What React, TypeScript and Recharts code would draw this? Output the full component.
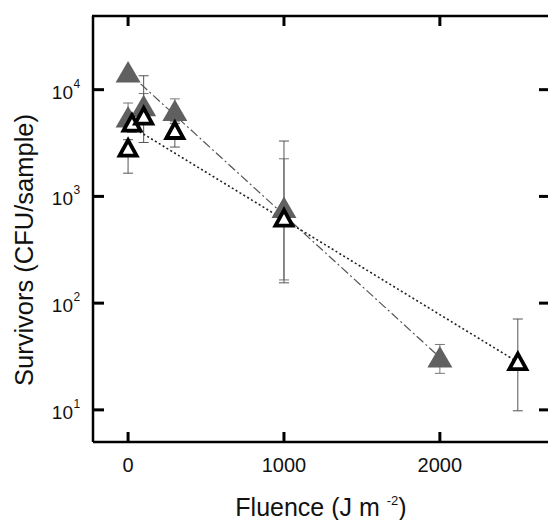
import React from 'react';
import { ScatterChart, Scatter, XAxis, YAxis, ErrorBar } from 'recharts';

// filled grey triangles
const filledFluence = [0, 0, 100, 300, 1000, 2000];
const filledSurvivors = [14500, 5500, 7000, 6300, 780, 31];
const filledLow = [14500, 4600, 5600, 5000, 165, 22];
const filledHigh = [14500, 7500, 9200, 8200, 2250, 41];

// open triangles
const openFluence = [0, 25, 100, 300, 1000, 2500];
const openSurvivors = [2800, 4800, 5600, 4100, 620, 28];
const openLow = [1650, 4000, 3200, 2900, 155, 9.8];
const openHigh = [3400, 5600, 13500, 4800, 3300, 71];

// fitted lines
const filledFitFluence = [0, 2000];
const filledFitSurvivors = [14500, 31];
const openFitFluence = [0, 2500];
const openFitSurvivors = [4700, 28];

const xTicks = [0, 1000, 2000];
const yTicks = [10, 100, 1000, 10000];

const FONT = '"Liberation Sans", Arial, Helvetica, sans-serif';
const PLOT_LEFT = 93;
const PLOT_RIGHT = 549;
const PLOT_TOP = 16;
const PLOT_BOTTOM = 442;

const withErr = (xs: number[], ys: number[], lo: number[], hi: number[]) =>
  xs.map((x, i) => ({ x, y: ys[i], err: [ys[i] - lo[i], hi[i] - ys[i]] }));

const filledData = withErr(filledFluence, filledSurvivors, filledLow, filledHigh);
const openData = withErr(openFluence, openSurvivors, openLow, openHigh);
const filledFit = filledFitFluence.map((x, i) => ({ x, y: filledFitSurvivors[i] }));
const openFit = openFitFluence.map((x, i) => ({ x, y: openFitSurvivors[i] }));

const FilledTriangle = (props: any) => {
  const { cx, cy } = props;
  return (
    <polygon
      points={`${cx},${cy - 11.5} ${cx - 12.5},${cy + 10} ${cx + 12.5},${cy + 10}`}
      fill="#606060"
    />
  );
};

const OpenTriangle = (props: any) => {
  const { cx, cy } = props;
  return (
    <polygon
      points={`${cx},${cy - 8.5} ${cx - 8.5},${cy + 7} ${cx + 8.5},${cy + 7}`}
      fill="#fff"
      stroke="#000"
      strokeWidth={3.8}
      strokeLinejoin="miter"
    />
  );
};

const NoDot = () => <g />;

// left ticks with labels, plus the mirrored right-hand ticks
const LeftTick = (props: any) => {
  const { y, payload } = props;
  const exp = Math.round(Math.log10(payload.value));
  return (
    <g>
      <line x1={PLOT_LEFT} x2={PLOT_LEFT + 11} y1={y} y2={y} stroke="#000" strokeWidth={3} />
      <line x1={PLOT_RIGHT - 10} x2={PLOT_RIGHT} y1={y} y2={y} stroke="#000" strokeWidth={3} />
      <text x={73} y={y + 9} textAnchor="end" fontSize={19} fontFamily={FONT} fill="#111">10</text>
      <text x={73.5} y={y - 2} fontSize={12} fontFamily={FONT} fill="#111">{exp}</text>
    </g>
  );
};

// bottom ticks with labels, plus the mirrored top ticks
const BottomTick = (props: any) => {
  const { x, payload } = props;
  return (
    <g>
      <line x1={x} x2={x} y1={PLOT_BOTTOM} y2={PLOT_BOTTOM - 10} stroke="#000" strokeWidth={3} />
      <line x1={x} x2={x} y1={PLOT_TOP} y2={PLOT_TOP + 10} stroke="#000" strokeWidth={3} />
      <text x={x} y={472} textAnchor="middle" fontSize={20} fontFamily={FONT} fill="#111">
        {payload.value}
      </text>
    </g>
  );
};

const XTitle = () => (
  <g>
    <line x1={PLOT_LEFT - 1} x2={PLOT_RIGHT + 1} y1={PLOT_TOP} y2={PLOT_TOP} stroke="#000" strokeWidth={2.5} />
    <text x={(PLOT_LEFT + PLOT_RIGHT) / 2} y={516} textAnchor="middle" fontSize={25} fontFamily={FONT} fill="#111">
      Fluence (J m{' '}
      <tspan dy={-11} fontSize={13}>-2</tspan>
      <tspan dy={11}>)</tspan>
    </text>
  </g>
);

const YTitle = () => (
  <text
    x={33}
    y={250}
    transform="rotate(-90, 33, 250)"
    textAnchor="middle"
    fontSize={25.5}
    fontFamily={FONT}
    fill="#111"
  >
    Survivors (CFU/sample)
  </text>
);

export default function App() {
  return (
    <div
      style={{
        position: 'absolute',
        left: 0,
        top: 0,
        width: 548,
        height: 520,
        overflow: 'hidden',
        background: '#fff',
      }}
    >
      <ScatterChart width={556} height={520} margin={{ top: 16, right: 7, bottom: 0, left: 0 }}>
        <XAxis
          dataKey="x"
          type="number"
          domain={[-225, 2700]}
          ticks={xTicks}
          allowDataOverflow
          height={78}
          axisLine={{ stroke: '#000', strokeWidth: 2.5 }}
          tickLine={false}
          tick={<BottomTick />}
          label={{ content: () => <XTitle /> }}
        />
        <YAxis
          dataKey="y"
          type="number"
          scale="log"
          domain={[5, 49000]}
          ticks={yTicks}
          allowDataOverflow
          width={93}
          axisLine={{ stroke: '#000', strokeWidth: 2.5 }}
          tickLine={false}
          tick={<LeftTick />}
          label={{ content: () => <YTitle /> }}
        />
        <Scatter
          data={filledFit}
          line={{ stroke: '#555', strokeWidth: 1.2, strokeDasharray: '9 3 2 3' }}
          shape={<NoDot />}
          isAnimationActive={false}
        />
        <Scatter
          data={openFit}
          line={{ stroke: '#222', strokeWidth: 1.6, strokeDasharray: '2 2.5' }}
          shape={<NoDot />}
          isAnimationActive={false}
        />
        <Scatter data={filledData} shape={<FilledTriangle />} isAnimationActive={false}>
          <ErrorBar dataKey="err" direction="y" width={5} stroke="#777" strokeWidth={1} isAnimationActive={false} />
        </Scatter>
        <Scatter data={openData} shape={<OpenTriangle />} isAnimationActive={false}>
          <ErrorBar dataKey="err" direction="y" width={5} stroke="#555" strokeWidth={1} isAnimationActive={false} />
        </Scatter>
      </ScatterChart>
    </div>
  );
}
